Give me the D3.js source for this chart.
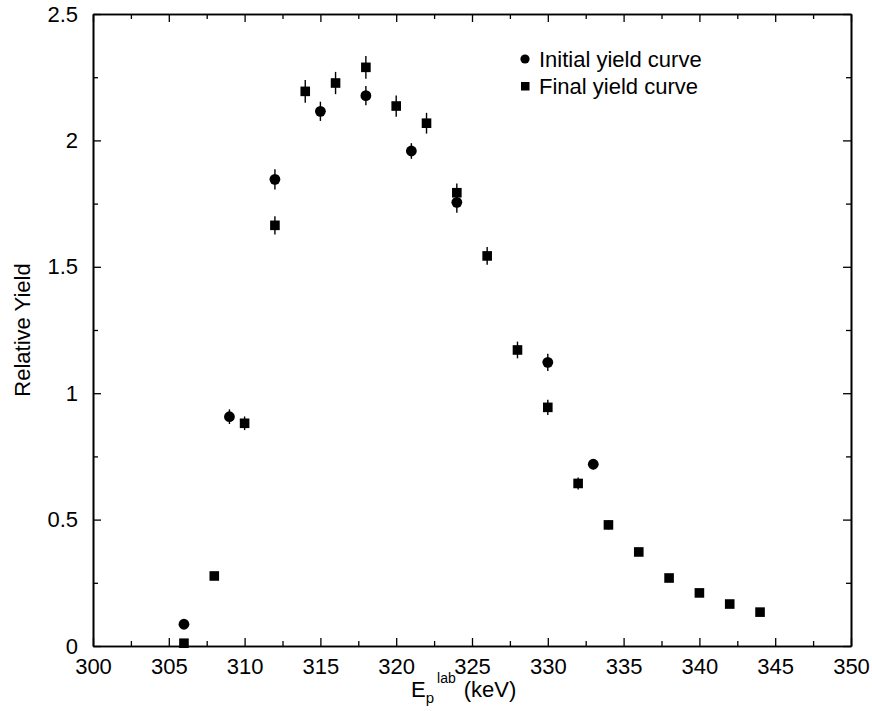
<!DOCTYPE html>
<html>
<head>
<meta charset="utf-8">
<script src="https://cdn.jsdelivr.net/npm/d3@7"></script>
<style>
  html, body { margin: 0; padding: 0; background: #fff; }
  svg text { font-family: "Liberation Sans", Arial, Helvetica, sans-serif; fill: #000; }
</style>
</head>
<body>
<svg id="chart" width="872" height="711"></svg>
<script>
// ---- data ----
const initialEnergy = [306, 309, 312, 315, 318, 321, 324, 330, 333];
const initialYield  = [0.086, 0.907, 1.846, 2.115, 2.177, 1.958, 1.755, 1.122, 0.719];
const initialError  = [0.015, 0.029, 0.040, 0.038, 0.038, 0.031, 0.041, 0.034, 0.020];

const finalEnergy = [306, 308, 310, 312, 314, 316, 318, 320, 322, 324, 326, 328, 330, 332, 334, 336, 338, 340, 342, 344];
const finalYield  = [0.011, 0.277, 0.881, 1.664, 2.194, 2.227, 2.289, 2.136, 2.068, 1.793, 1.543, 1.171, 0.944, 0.643, 0.479, 0.372, 0.269, 0.210, 0.166, 0.134];
const finalError  = [0.010, 0.012, 0.027, 0.036, 0.045, 0.044, 0.045, 0.042, 0.041, 0.037, 0.035, 0.033, 0.030, 0.024, 0.018, 0.016, 0.014, 0.013, 0.012, 0.011];

const xTickValues = [300, 305, 310, 315, 320, 325, 330, 335, 340, 345, 350];
const xTickLabels = ["300", "305", "310", "315", "320", "325", "330", "335", "340", "345", "350"];
const yTickValues = [0, 0.5, 1, 1.5, 2, 2.5];
const yTickLabels = ["0", "0.5", "1", "1.5", "2", "2.5"];
const xMinorTicks = [302.5, 307.5, 312.5, 317.5, 322.5, 327.5, 332.5, 337.5, 342.5, 347.5];
const yMinorTicks = [0.25, 0.75, 1.25, 1.75, 2.25];

const legendLabels = ["Initial yield curve", "Final yield curve"];
const yTitle = "Relative Yield";

// ---- layout ----
const svg = d3.select("#chart");
const mLeft = 93, mRight = 851, mTop = 14, mBottom = 646;
const x = d3.scaleLinear().domain([300, 350]).range([mLeft, mRight]);
const y = d3.scaleLinear().domain([0, 2.5]).range([mBottom, mTop]);
const FS = 22;

const g = svg.append("g");

function addAxis(axisGen, transform, labelsVisible) {
  const a = g.append("g").attr("transform", transform).call(axisGen);
  a.select(".domain").attr("stroke", "#000").attr("stroke-width", 1.6);
  a.selectAll(".tick line").attr("stroke", "#000").attr("stroke-width", 1.3);
  if (!labelsVisible) a.selectAll(".tick text").remove();
  return a;
}
const xFmt = (d) => xTickLabels[xTickValues.indexOf(d)];
const yFmt = (d) => yTickLabels[yTickValues.indexOf(d)];

// bottom
const xb = addAxis(d3.axisBottom(x).tickValues(xTickValues).tickFormat(xFmt).tickSizeInner(-8).tickSizeOuter(0).tickPadding(12),
  `translate(0,${mBottom})`, true);
xb.selectAll(".tick text").attr("font-size", FS).attr("font-family", "Liberation Sans, Arial, sans-serif");
addAxis(d3.axisBottom(x).tickValues(xMinorTicks).tickSizeInner(-5).tickSizeOuter(0), `translate(0,${mBottom})`, false);
// top
addAxis(d3.axisTop(x).tickValues(xTickValues).tickSizeInner(-8).tickSizeOuter(0), `translate(0,${mTop})`, false);
addAxis(d3.axisTop(x).tickValues(xMinorTicks).tickSizeInner(-5).tickSizeOuter(0), `translate(0,${mTop})`, false);
// left
const yl = addAxis(d3.axisLeft(y).tickValues(yTickValues).tickFormat(yFmt).tickSizeInner(-8).tickSizeOuter(0).tickPadding(15),
  `translate(${mLeft},0)`, true);
yl.selectAll(".tick text").attr("font-size", FS).attr("font-family", "Liberation Sans, Arial, sans-serif");
addAxis(d3.axisLeft(y).tickValues(yMinorTicks).tickSizeInner(-5).tickSizeOuter(0), `translate(${mLeft},0)`, false);
// right
addAxis(d3.axisRight(y).tickValues(yTickValues).tickSizeInner(-8).tickSizeOuter(0), `translate(${mRight},0)`, false);
addAxis(d3.axisRight(y).tickValues(yMinorTicks).tickSizeInner(-5).tickSizeOuter(0), `translate(${mRight},0)`, false);

// ---- error bars ----
function errorBars(xs, ys, es) {
  g.append("g").selectAll("line").data(xs.map((d, i) => [d, ys[i], es[i]])).join("line")
    .attr("x1", d => x(d[0])).attr("x2", d => x(d[0]))
    .attr("y1", d => y(d[1] - d[2])).attr("y2", d => y(d[1] + d[2]))
    .attr("stroke", "#000").attr("stroke-width", 1.4);
}
errorBars(initialEnergy, initialYield, initialError);
errorBars(finalEnergy, finalYield, finalError);

// ---- markers ----
const R = 5.4, S = 9.6;
g.append("g").selectAll("circle").data(initialEnergy.map((d, i) => [d, initialYield[i]])).join("circle")
  .attr("cx", d => x(d[0])).attr("cy", d => y(d[1])).attr("r", R).attr("fill", "#000");
g.append("g").selectAll("rect").data(finalEnergy.map((d, i) => [d, finalYield[i]])).join("rect")
  .attr("x", d => x(d[0]) - S / 2).attr("y", d => y(d[1]) - S / 2)
  .attr("width", S).attr("height", S).attr("fill", "#000");

// ---- legend ----
const lg = svg.append("g");
lg.append("circle").attr("cx", 525).attr("cy", 59).attr("r", 4.6).attr("fill", "#000");
lg.append("rect").attr("x", 521).attr("y", 82).attr("width", 8.5).attr("height", 8.5).attr("fill", "#000");
lg.append("text").attr("x", 539).attr("y", 67).attr("font-size", FS).text(legendLabels[0]);
lg.append("text").attr("x", 539).attr("y", 94).attr("font-size", FS).text(legendLabels[1]);

// ---- axis titles ----
svg.append("text").attr("transform", "translate(30,330) rotate(-90)")
  .attr("text-anchor", "middle").attr("font-size", FS).text(yTitle);

const xt = svg.append("text").attr("x", 411).attr("y", 697).attr("font-size", FS);
xt.append("tspan").text("E");
xt.append("tspan").attr("font-size", 15).attr("dy", 6).text("p");
xt.append("tspan").attr("font-size", 14).attr("dx", 3).attr("dy", -20).text("lab");
xt.append("tspan").attr("font-size", FS).attr("dx", 8).attr("dy", 14).text("(keV)");
</script>
</body>
</html>
